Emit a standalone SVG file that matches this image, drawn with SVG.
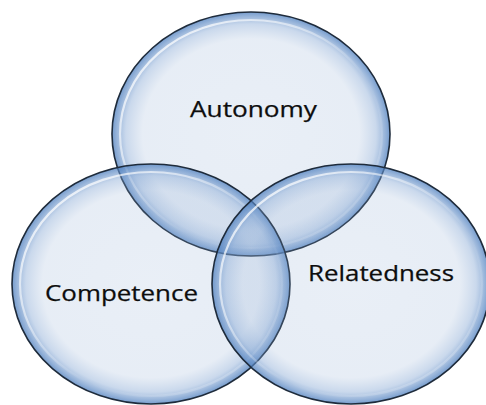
<svg xmlns="http://www.w3.org/2000/svg" width="486" height="405" viewBox="0 0 486 405">
  <defs>
    <radialGradient id="bubble" cx="0.5" cy="0.5" r="0.5">
      <stop offset="0" stop-color="#8caad2" stop-opacity="0.19"/>
      <stop offset="0.78" stop-color="#8caad2" stop-opacity="0.21"/>
      <stop offset="0.90" stop-color="#7a9fd0" stop-opacity="0.40"/>
      <stop offset="1" stop-color="#4f80bf" stop-opacity="0.78"/>
    </radialGradient>
    <linearGradient id="gloss" x1="0" y1="0" x2="1" y2="1">
      <stop offset="0" stop-color="#ffffff" stop-opacity="0.9"/>
      <stop offset="0.35" stop-color="#ffffff" stop-opacity="0.5"/>
      <stop offset="0.6" stop-color="#ffffff" stop-opacity="0"/>
      <stop offset="1" stop-color="#ffffff" stop-opacity="0.35"/>
    </linearGradient>
    <style>
      .bubble { fill: url(#bubble); stroke: #1e2b3b; stroke-width: 1.6; }
      .gloss { fill: none; stroke: url(#gloss); stroke-width: 2.2; }
      .label { font-family: "Open Sans", "Liberation Sans", sans-serif; font-size: 22px; fill: #0d0d0d; stroke: #0d0d0d; stroke-width: 0.25; }
    </style>
  </defs>
  <rect width="486" height="405" fill="#ffffff"/>
  <g id="autonomy">
    <ellipse class="bubble" cx="251" cy="134" rx="139" ry="122"/>
    <ellipse class="gloss" cx="251" cy="134" rx="131" ry="114"/>
    <text class="label" x="190" y="117" textLength="127" lengthAdjust="spacingAndGlyphs">Autonomy</text>
  </g>
  <g id="competence">
    <ellipse class="bubble" cx="151" cy="284" rx="139" ry="120"/>
    <ellipse class="gloss" cx="151" cy="284" rx="131" ry="112"/>
    <text class="label" x="45" y="301" textLength="153" lengthAdjust="spacingAndGlyphs">Competence</text>
  </g>
  <g id="relatedness">
    <ellipse class="bubble" cx="351" cy="284" rx="139" ry="120"/>
    <ellipse class="gloss" cx="351" cy="284" rx="131" ry="112"/>
    <text class="label" x="308" y="281" textLength="146" lengthAdjust="spacingAndGlyphs">Relatedness</text>
  </g>
</svg>
